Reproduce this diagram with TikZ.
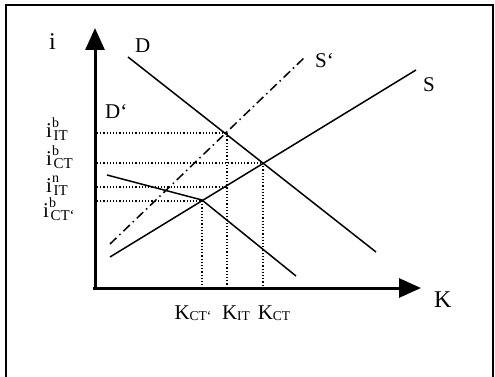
\documentclass[tikz,border=0pt]{standalone}
\usepackage{fontspec}
\setmainfont{Liberation Serif}
\usetikzlibrary{arrows.meta}
\newcommand{\lblfont}{\fontsize{21pt}{21pt}\selectfont}
\newcommand{\axfont}{\fontsize{24pt}{24pt}\selectfont}
\newcommand{\supfont}{\fontsize{14pt}{14pt}\selectfont}
\newcommand{\smlfont}{\fontsize{15pt}{15pt}\selectfont}
\newcommand{\kfont}{\fontsize{13.5pt}{13.5pt}\selectfont}
\newcommand{\ilab}[2]{i\rlap{\raisebox{9.5pt}{\supfont #1}}\kern1.5pt\raisebox{-3pt}{\smlfont #2}}
\newcommand{\klab}[1]{K\raisebox{-1.5pt}{\kfont #1}}
\begin{document}
\begin{tikzpicture}[x=1pt,y=-1pt,
  curve/.style={line width=1.5pt},
  guide/.style={line width=1.2pt,dotted},
  axis/.style={line width=3pt,-{Triangle[length=22pt,width=19pt]}},
  lbl/.style={font=\lblfont,inner sep=0pt,anchor=base west},
  axlbl/.style={font=\axfont,inner sep=0pt,anchor=base west}]
\useasboundingbox (0,0) rectangle (495,377);
\clip (0,0) rectangle (495,377);
\draw[line width=1.2pt] (6,390) -- (6,5) -- (493,5) -- (493,390);
% axes
\coordinate (O) at (95,288);
\coordinate (Ytop) at (95,28);
\coordinate (Xend) at (421,288);
\draw[axis] (95,290) -- (Ytop);
\draw[axis] (93,288) -- (Xend);
% curves
\coordinate (D1) at (128,57);
\coordinate (D2) at (376,252);
\coordinate (S1) at (110,257);
\coordinate (S2) at (416,70);
\coordinate (Sp1) at (110,244);
\coordinate (Sp2) at (305,57);
\coordinate (Dp1) at (107,175);
\coordinate (Dk) at (202,200);
\coordinate (Dp2) at (296,276);
\draw[curve] (D1) -- (D2);
\draw[curve] (S1) -- (S2);
\draw[curve,dash pattern=on 9pt off 4pt on 1.5pt off 4pt] (Sp1) -- (Sp2);
\draw[curve] (Dp1) -- (Dk) -- (Dp2);
% guides
\coordinate (A) at (227,133);
\coordinate (B) at (263,163);
\coordinate (C) at (227,187);
\coordinate (E) at (202,201);
\coordinate (Ay) at (97,133);
\coordinate (By) at (97,163);
\coordinate (Cy) at (97,187);
\coordinate (Ey) at (97,201);
\coordinate (Ax) at (227,287);
\coordinate (Bx) at (263,287);
\coordinate (Ex) at (202,287);
\draw[guide] (Ay) -- (A);
\draw[guide] (By) -- (B);
\draw[guide] (Cy) -- (C);
\draw[guide] (Ey) -- (E);
\draw[guide] (A) -- (Ax);
\draw[guide] (B) -- (Bx);
\draw[guide] (E) -- (Ex);
% labels
\node[axlbl] (li) at (49,50) {i};
\node[axlbl] (lK) at (434,307) {K};
\node[lbl] (lD) at (135,53) {D};
\node[lbl] (lDp) at (105,118) {D‘};
\node[lbl] (lS) at (423,92) {S};
\node[lbl] (lSp) at (315,68) {S‘};
\node[lbl] (l1) at (46,137) {\ilab{b}{IT}};
\node[lbl] (l2) at (46,165) {\ilab{b}{CT}};
\node[lbl] (l3) at (46,192) {\ilab{n}{IT}};
\node[lbl] (l4) at (43,217) {\ilab{b}{CT‘}};
\node[lbl,anchor=base] (k1) at (193,319) {\klab{CT‘}};
\node[lbl,anchor=base] (k2) at (236,319) {\klab{IT}};
\node[lbl,anchor=base] (k3) at (274,319) {\klab{CT}};
\end{tikzpicture}
\end{document}
